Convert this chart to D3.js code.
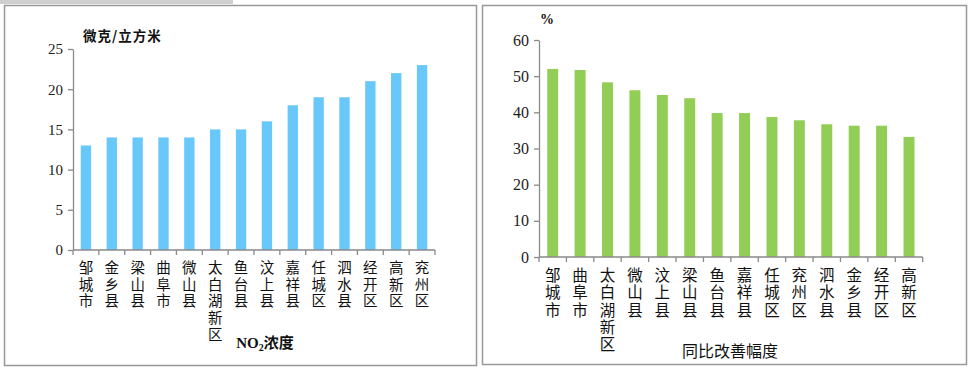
<!DOCTYPE html>
<html><head><meta charset="utf-8">
<script src="https://cdn.jsdelivr.net/npm/d3@7"></script>
<style>body{margin:0;background:#fff;}svg{display:block;}</style>
</head><body>
<svg id="c" width="971" height="369"></svg>
<script>
const no2Cats = ["邹城市","金乡县","梁山县","曲阜市","微山县","太白湖新区","鱼台县","汶上县","嘉祥县","任城区","泗水县","经开区","高新区","兖州区"];
const no2Values = [13,14,14,14,14,15,15,16,18,19,19,21,22,23];
const no2Ticks = [0,5,10,15,20,25];
const impCats = ["邹城市","曲阜市","太白湖新区","微山县","汶上县","梁山县","鱼台县","嘉祥县","任城区","兖州区","泗水县","金乡县","经开区","高新区"];
const impValues = [52.0,51.7,48.3,46.1,44.8,43.9,39.8,39.8,38.7,37.8,36.7,36.3,36.3,33.2];
const impTicks = [0,10,20,30,40,50,60];

const svg = d3.select("#c");
const axisCol = "#8a8a8a";
const cjk = "'Noto Sans CJK SC','Noto Sans',sans-serif";
const serif = "'Liberation Serif','DejaVu Serif',serif";

// frames
svg.append("rect").attr("x",0).attr("y",0).attr("width",233).attr("height",4).attr("fill","#cfcfcf");
svg.append("rect").attr("x",4.5).attr("y",5.5).attr("width",472).attr("height",360).attr("fill","none").attr("stroke","#999").attr("stroke-width",1.5);
svg.append("rect").attr("x",482.5).attr("y",5.5).attr("width",484).attr("height",359).attr("fill","none").attr("stroke","#999").attr("stroke-width",1.5);

function panel(o){
  const g = svg.append("g");
  const x = d3.scaleBand().domain(o.cats).range([o.x0,o.x1]).paddingInner(0.6).paddingOuter(0.3);
  const y = d3.scaleLinear().domain([0,o.max]).range([o.y0,o.y1]);
  // bars
  g.selectAll("rect.bar").data(o.vals).enter().append("rect")
    .attr("x",(d,i)=>x(o.cats[i])).attr("width",x.bandwidth())
    .attr("y",d=>y(d)).attr("height",d=>y(0)-y(d)).attr("fill",o.color);
  // y axis
  const ya = g.append("g").attr("transform",`translate(${o.x0},0)`)
    .call(d3.axisLeft(y).tickValues(o.ticks).tickSize(5).tickSizeOuter(0).tickPadding(5));
  ya.select(".domain").attr("stroke",axisCol).attr("stroke-width",1.3);
  ya.selectAll(".tick line").attr("stroke",axisCol).attr("stroke-width",1.3);
  ya.selectAll(".tick text").attr("font-family",serif).attr("font-size",o.fs).attr("fill","#222");
  // x axis
  const xa = g.append("g").attr("transform",`translate(0,${o.y0})`);
  xa.append("line").attr("x1",o.x0).attr("x2",o.x1).attr("stroke",axisCol).attr("stroke-width",1.3);
  const step = x.step();
  const bounds = o.cats.map(c=>x(c)-step*0.3).concat([o.x1]);
  xa.selectAll("line.t").data(bounds).enter().append("line")
    .attr("x1",d=>d).attr("x2",d=>d).attr("y1",0).attr("y2",5).attr("stroke",axisCol).attr("stroke-width",1.3);
  // vertical category labels
  o.cats.forEach(c=>{
    const t = g.append("text").attr("font-family",cjk).attr("font-size",o.lfs).attr("fill","#111").attr("text-anchor","middle");
    Array.from(c).forEach((ch,k)=>{
      t.append("tspan").attr("x",x(c)+x.bandwidth()/2).attr("y",o.y0+o.ly+k*o.lh).text(ch);
    });
  });
  return {x,y};
}

panel({cats:no2Cats, vals:no2Values, ticks:no2Ticks, max:25, x0:73, x1:435, y0:250, y1:49, color:"#68c8f9", fs:15, lfs:14.5, ly:23, lh:16.7});
panel({cats:impCats, vals:impValues, ticks:impTicks, max:60, x0:539, x1:922.7, y0:257, y1:40, color:"#92cd55", fs:16, lfs:15.5, ly:24, lh:17.3});

// unit labels
svg.append("text").attr("x",83).attr("y",41).attr("font-family",cjk).attr("font-weight","bold").attr("font-size",13.5).attr("fill","#111").attr("letter-spacing",1).text("微克/立方米");
svg.append("text").attr("x",547).attr("y",24).attr("text-anchor","middle").attr("font-family",serif).attr("font-weight","bold").attr("font-size",14).attr("fill","#111").text("%");

// axis titles
const t1 = svg.append("text").attr("x",265).attr("y",348).attr("text-anchor","middle").attr("font-weight","bold").attr("font-size",15).attr("fill","#111");
t1.append("tspan").attr("font-family",serif).text("NO");
t1.append("tspan").attr("font-family",serif).attr("font-size",10).attr("dy",3).text("2");
t1.append("tspan").attr("font-family",cjk).attr("dy",-3).text("浓度");
svg.append("text").attr("x",730).attr("y",357).attr("text-anchor","middle").attr("font-family",cjk).attr("font-size",16).attr("fill","#111").text("同比改善幅度");
</script>
</body></html>
